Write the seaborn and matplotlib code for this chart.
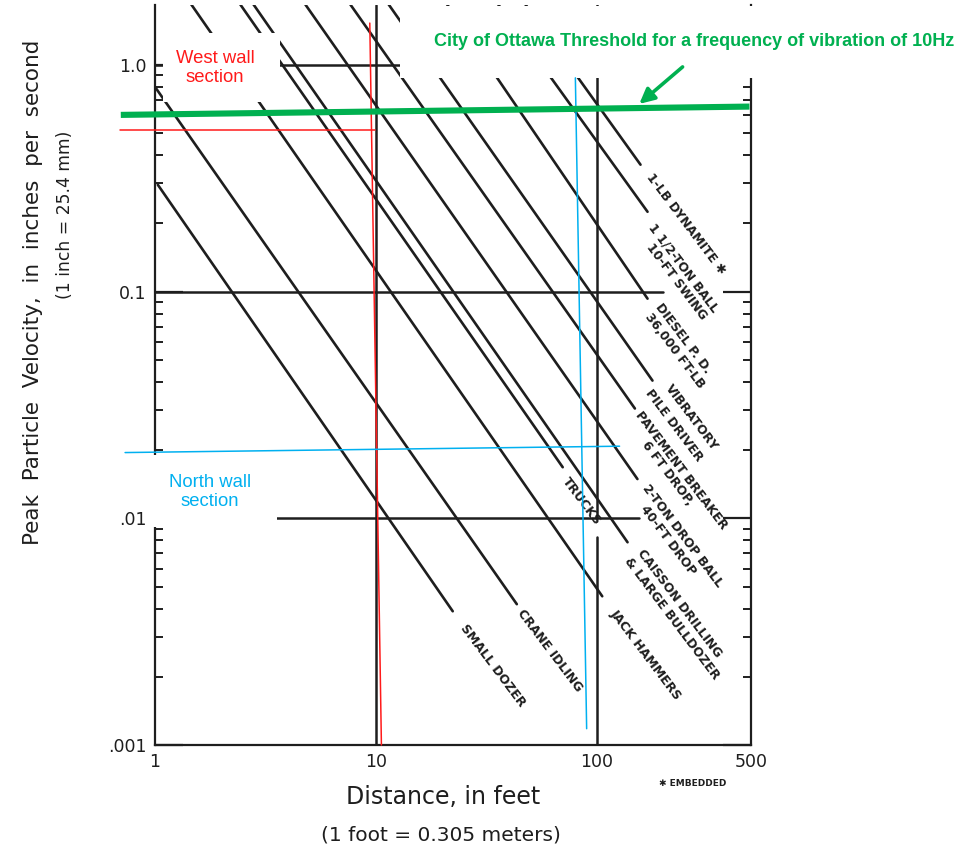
import matplotlib
matplotlib.use("Agg")
import numpy as np
import pandas as pd
import matplotlib.pyplot as plt
import seaborn as sns
from matplotlib.patches import Rectangle

# ---------------- data ----------------
sources = ["SMALL DOZER", "CRANE IDLING", "JACK HAMMERS", "TRUCKS",
           "CAISSON DRILLING", "2-TON DROP BALL", "PAVEMENT BREAKER",
           "VIBRATORY PILE DRIVER", "DIESEL P.D.", "1 1/2-TON BALL",
           "1-LB DYNAMITE"]
start_distance = [1.03, 1.0, 1.38, 2.30, 2.64, 4.53, 7.24, 10.8, 19.9, 33.8, 44.9]
start_velocity = [0.296, 0.80, 2.0, 2.0, 2.0, 2.0, 2.0, 2.0, 2.0, 2.0, 2.0]
end_distance = [22.3, 43.5, 106, 70.2, 138, 153, 149, 179, 170, 170, 158]
end_velocity = [0.00389, 0.00418, 0.00453, 0.0168, 0.00784, 0.0149, 0.0305,
                0.0405, 0.0931, 0.225, 0.363]

label_text = ["1-LB DYNAMITE \u2731", "1 1/2-TON BALL", "10-FT SWING",
              "DIESEL P. D.", "36,000 FT-LB", "VIBRATORY", "PILE DRIVER",
              "PAVEMENT BREAKER", "6 FT DROP,", "2-TON DROP BALL", "40-FT DROP",
              "CAISSON DRILLING", "& LARGE BULLDOZER", "JACK HAMMERS",
              "TRUCKS", "CRANE IDLING", "SMALL DOZER"]
label_distance = [172, 176, 172, 189, 170, 210, 170, 154, 164, 166, 162,
                  156, 137, 118, 71.7, 44.8, 24.8]
label_velocity = [0.326, 0.197, 0.160, 0.0877, 0.0792, 0.0385, 0.0365,
                  0.0293, 0.0216, 0.0139, 0.0112, 0.00715, 0.0066, 0.00389,
                  0.01485, 0.00389, 0.00334]

x_ticks = [1, 10, 100, 500]
x_ticklabels = ["1", "10", "100", "500"]
y_ticks = [0.001, 0.01, 0.1, 1.0]
y_ticklabels = [".001", ".01", "0.1", "1.0"]

grid_velocity = [1.0, 0.1, 0.01]
grid_end_distance = [175, 200, 156]

west_wall_distance = [9.39, 10.6]
west_wall_velocity = [1.53, 0.001]
west_level_distance = [0.695, 9.95]
west_level_velocity = [0.517, 0.517]

north_wall_distance = [80.1, 90.1]
north_wall_velocity = [0.877, 0.00118]
north_level_distance = [0.732, 127]
north_level_velocity = [0.0195, 0.0208]

ottawa_distance = [0.70, 492]
ottawa_velocity = [0.602, 0.655]
arrow_tail = (245, 0.980)
arrow_tip = (156, 0.673)

# ---------------- figure ----------------
sns.set_style("white")
plt.rcParams["font.family"] = ["DejaVu Sans"]

W, H = 972, 849
fig = plt.figure(figsize=(W / 100, H / 100), dpi=100)
fig.patch.set_facecolor("white")

def fx(px):
    return px / W

def fy(py):
    return 1 - py / H

ax = fig.add_axes([fx(155), fy(745), (751 - 155) / W, (745 - 5) / H])
ax.set_xscale("log")
ax.set_yscale("log")

ink = "#1e1e1e"

rows = []
for s, d0, v0, d1, v1 in zip(sources, start_distance, start_velocity,
                             end_distance, end_velocity):
    rows.append({"source": s, "distance": d0, "velocity": v0})
    rows.append({"source": s, "distance": d1, "velocity": v1})
df = pd.DataFrame(rows)

sns.lineplot(data=df, x="distance", y="velocity", units="source",
             estimator=None, color=ink, lw=1.9, ax=ax, sort=False,
             legend=False)

ax.set_xlim(1, 500)
ax.set_ylim(0.001, 1.838)

# grid-like lines of the original chart
for v, e in zip(grid_velocity, grid_end_distance):
    ax.plot([1, e], [v, v], color=ink, lw=1.8, zorder=2)
ax.axvline(10, color=ink, lw=1.8, zorder=2)
ax.plot([100, 100], [0.01, 1.838], color=ink, lw=1.8, zorder=2)
ax.plot([100, 100], [0.001, 0.0083], color=ink, lw=1.8, zorder=2)

# spines & ticks
for side in ["left", "bottom", "right"]:
    ax.spines[side].set_visible(True)
    ax.spines[side].set_color(ink)
    ax.spines[side].set_linewidth(1.6)
ax.spines["top"].set_visible(False)

ax.set_xticks(x_ticks)
ax.set_xticklabels(x_ticklabels)
ax.set_yticks(y_ticks)
ax.set_yticklabels(y_ticklabels)
ax.xaxis.set_minor_locator(matplotlib.ticker.LogLocator(base=10, subs=np.arange(2, 10)))
ax.yaxis.set_minor_locator(matplotlib.ticker.LogLocator(base=10, subs=np.arange(2, 10)))
ax.xaxis.set_minor_formatter(matplotlib.ticker.NullFormatter())
ax.yaxis.set_minor_formatter(matplotlib.ticker.NullFormatter())
ax.tick_params(axis="x", which="major", direction="in", length=0, pad=6,
               labelsize=12.5, colors=ink)
ax.tick_params(axis="x", which="minor", direction="in", length=8, width=1.4,
               color=ink, top=False)
ax.tick_params(axis="y", which="major", direction="in", length=20, width=1.6,
               left=True, right=True, pad=6, labelsize=12.5, colors=ink)
ax.tick_params(axis="y", which="minor", direction="in", length=6, width=1.4,
               left=True, right=True, color=ink)
ax.set_xlabel("")
ax.set_ylabel("")

# curve labels
for t, d, v in zip(label_text, label_distance, label_velocity):
    ax.text(d, v, t, rotation=-53, rotation_mode="anchor", ha="left",
            va="center", fontsize=9, fontweight="bold", color=ink,
            clip_on=False, zorder=4)

# axis titles (outside)
fig.text(fx(443), fy(797), "Distance, in feet", ha="center", va="center",
         fontsize=17, color=ink)
fig.text(fx(441), fy(835), "(1 foot = 0.305 meters)", ha="center",
         va="center", fontsize=14.5, color=ink)
fig.text(fx(33), fy(292), "Peak  Particle  Velocity,  in  inches  per  second",
         ha="center", va="center", rotation=90, fontsize=15.5, color=ink)
fig.text(fx(65), fy(215), "(1 inch = 25.4 mm)", ha="center", va="center",
         rotation=90, fontsize=12.3, color=ink)
fig.text(fx(693), fy(784), "\u2731 EMBEDDED", ha="center", va="center",
         fontsize=6.5, fontweight="bold", color=ink)

# white boxes covering the scan
for (x0, y0, x1, y1) in [(163, 33, 280, 102), (400, 6, 972, 78),
                         (147, 455, 277, 527)]:
    ax.add_patch(Rectangle((fx(x0), fy(y1)), fx(x1) - fx(x0), fy(y0) - fy(y1),
                           transform=fig.transFigure, facecolor="white",
                           edgecolor="none", zorder=8, clip_on=False))

# overlay annotations
red = "#ff1a1a"
blue = "#00b0f0"
green = "#00b050"
ax.plot(west_wall_distance, west_wall_velocity, color=red, lw=1.1,
        zorder=9, clip_on=False)
ax.plot(west_level_distance, west_level_velocity, color=red, lw=1.1,
        zorder=9, clip_on=False)
ax.plot(north_wall_distance, north_wall_velocity, color=blue, lw=1.1,
        zorder=9, clip_on=False)
ax.plot(north_level_distance, north_level_velocity, color=blue, lw=1.1,
        zorder=9, clip_on=False)
ax.plot(ottawa_distance, ottawa_velocity, color=green, lw=4.4,
        solid_capstyle="butt", zorder=9, clip_on=False)
ax.annotate("", xy=arrow_tip, xytext=arrow_tail,
            arrowprops=dict(arrowstyle="-|>,head_length=0.9,head_width=0.45",
                            color=green, lw=2.6, shrinkA=0, shrinkB=0),
            annotation_clip=False, zorder=10)

ax.text(fx(215), fy(68), "West wall\nsection", transform=fig.transFigure,
        ha="center", va="center", fontsize=13.3, color=red,
        family="Liberation Sans", linespacing=1.15, zorder=10)
ax.text(fx(210), fy(492), "North wall\nsection", transform=fig.transFigure,
        ha="center", va="center", fontsize=13.3, color=blue,
        family="Liberation Sans", linespacing=1.15, zorder=10)
ax.text(fx(694), fy(42),
        "City of Ottawa Threshold for a frequency of vibration of 10Hz",
        transform=fig.transFigure, ha="center", va="center", fontsize=13,
        fontweight="bold", color=green, family="Liberation Sans", zorder=10)

fig.savefig("out.png", dpi=100, facecolor="white")
